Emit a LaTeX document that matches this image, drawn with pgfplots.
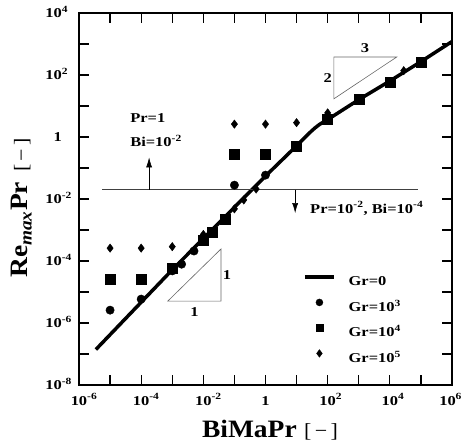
\documentclass[border=0pt]{standalone}
\usepackage{fontspec}
\setmainfont{Liberation Serif}
\newfontfamily\wf[FakeStretch=1.22]{Liberation Serif}
\newfontfamily\af[FakeStretch=1.1]{Liberation Serif}
\usepackage{pgfplots}
\pgfplotsset{compat=1.18}
\usetikzlibrary{arrows.meta}

\newcommand{\tf}{\wf\fontsize{13.5}{16}\selectfont\bfseries}
\newcommand{\tk}[1]{{\tf 10\rlap{\textsuperscript{#1}}}}
\pgfplotsset{
  legmark/.style={legend image code/.code={\draw[##1, mark size=#1] plot coordinates {(14.5pt,4pt)};}},
  legline/.style={legend image code/.code={\draw[line width=3.5pt] (0pt,4pt) -- (29pt,4pt);}},
}

\begin{document}
\begin{tikzpicture}
\useasboundingbox (-79pt,-59pt) rectangle (386pt,385pt);
\begin{axis}[
  at={(0pt,0pt)}, anchor=south west,
  scale only axis, width=373pt, height=372pt,
  xmode=log, ymode=log,
  xmin=1e-6, xmax=1e6, ymin=1e-8, ymax=1e4,
  xminorticks=false, yminorticks=false,
  axis line style={line width=1.6pt},
  tick style={line width=1.2pt, black},
  tick align=inside, major tick length=10pt,
  xtick={1e-6,1e-5,1e-4,1e-3,1e-2,1e-1,1,1e1,1e2,1e3,1e4,1e5,1e6},
  xticklabels={{\tk{-6}},{},{\tk{-4}},{},{\tk{-2}},{},{\tf 1},{},{\tk{2}},{},{\tk{4}},{},{\tf\kern-9pt 10\rlap{\textsuperscript{6}}}},
  ytick={1e-8,1e-7,1e-6,1e-5,1e-4,1e-3,1e-2,1e-1,1,1e1,1e2,1e3,1e4},
  yticklabels={{\tk{-8}},{},{\tk{-6}},{},{\tk{-4}},{},{\tk{-2}},{},{\tf 1},{},{\tk{2}},{},{\tk{4}}},
  xticklabel style={anchor=base, inner sep=0pt, yshift=-20pt},
  yticklabel style={anchor=base east, inner sep=0pt, yshift=-4.5pt, xshift=-17pt},
  xlabel={\af\fontsize{25}{25}\selectfont\bfseries BiMaPr\hspace{0.3em}{\fontsize{20}{20}\selectfont\mdseries[\,−\,]}},
  ylabel={\af\fontsize{25}{25}\selectfont\bfseries Re\textsubscript{\itshape max}Pr\hspace{0.4em}{\fontsize{20}{20}\selectfont\mdseries[\,−\,]}},
  xlabel style={at={(axis description cs:0.512,-0.14)}, anchor=base},
  ylabel style={at={(axis description cs:-0.137,0.476)}, anchor=base},
  legend style={at={(axis description cs:0.6005,0.3045)}, anchor=north west,
    draw=none, fill=none, inner sep=0pt, row sep=7.5pt, column sep=13pt,
    nodes={inner sep=0pt, text height=14pt, text depth=4pt}},
  legend cell align=left,
]
% Gr = 0
\addplot[black, line width=3.5pt, line join=round, legline]
  coordinates {
  (3.5e-6,1.4e-7) (1e-3,5.2e-5) (1,0.055) (10,0.52) (20,1.05) (30,1.55)
  (40,2.0) (55,2.55) (75,3.1) (100,3.65) (1e3,16) (1e4,64) (1e5,270) (1e6,1200)
};
\addlegendentry{\tf Gr=0}
% Gr = 10^3
\addplot[only marks, mark=*, mark size=4.2pt, black, legmark=3.5pt]
  coordinates {
  (1e-5,2.6e-6) (1e-4,5.9e-6) (1e-3,4.8e-5) (2e-3,7.9e-5) (5e-3,2.1e-4)
  (0.1,0.028) (1,0.059) (10,0.5) (100,3.7) (1e3,16.5) (1e4,60) (1e5,250)
};
\addlegendentry{\tf Gr=10\textsuperscript{3}}
% Gr = 10^4
\addplot[only marks, mark=square*, mark size=5pt, black, legmark=3.7pt]
  coordinates {
  (1e-5,2.6e-5) (1e-4,2.6e-5) (1e-3,5.7e-5) (1e-2,4.8e-4) (0.02,8.5e-4)
  (0.05,2.2e-3) (0.1,0.28) (1,0.28) (10,0.5) (100,3.7) (1e3,16.5) (1e4,60) (1e5,250)
};
\addlegendentry{\tf Gr=10\textsuperscript{4}}
% Gr = 10^5
\addplot[only marks, mark=diamond*, mark size=4.2pt, black, legmark=3.8pt]
  coordinates {
  (1e-5,2.6e-4) (1e-4,2.6e-4) (1e-3,2.9e-4) (1e-2,7.2e-4) (0.1,4.8e-3)
  (0.2,9.3e-3) (0.5,0.021) (0.1,2.6) (1,2.6) (10,2.9) (100,6) (2.8e4,138)
};
\addlegendentry{\tf Gr=10\textsuperscript{5}}

% separating line and arrows
\addplot[forget plot, black!75, line width=0.7pt] coordinates {(5.5e-6,0.02) (8e4,0.02)};
\draw[black, line width=0.6pt, -{Latex[length=10pt,width=6pt]}]
  (axis cs:1.8e-4,0.02) -- (axis cs:1.8e-4,0.22);
\draw[black, line width=0.6pt, -{Latex[length=10pt,width=6pt]}]
  (axis cs:9,0.02) -- (axis cs:9,3.5e-3);
\node[anchor=base west, inner sep=0pt] at (axis cs:4.4e-5,3.0) {\tf Pr=1};
\node[anchor=base west, inner sep=0pt] at (axis cs:4.4e-5,0.48) {\tf Bi=10\textsuperscript{-2}};
\node[anchor=base west, inner sep=0pt] at (axis cs:27,3.5e-3)
  {\tf Pr=10\textsuperscript{-2}, Bi=10\textsuperscript{-4}};

% slope triangles
\draw[black!60, line width=0.6pt] (axis cs:7.2e-4,5.1e-6) -- (axis cs:0.037,5.1e-6)
  -- (axis cs:0.037,2.45e-4) -- cycle;
\node[anchor=north] at (axis cs:5.2e-3,4.0e-6) {\tf 1};
\node[anchor=west, inner sep=1pt] at (axis cs:0.039,3.5e-5) {\tf 1};
\draw[black!60, line width=0.6pt] (axis cs:158,380) -- (axis cs:1.66e4,380)
  -- (axis cs:158,17) -- cycle;
\node[anchor=south] at (axis cs:1.6e3,420) {\tf 3};
\node[anchor=east, inner sep=1pt] at (axis cs:150,80) {\tf 2};
\end{axis}
\end{tikzpicture}
\end{document}
